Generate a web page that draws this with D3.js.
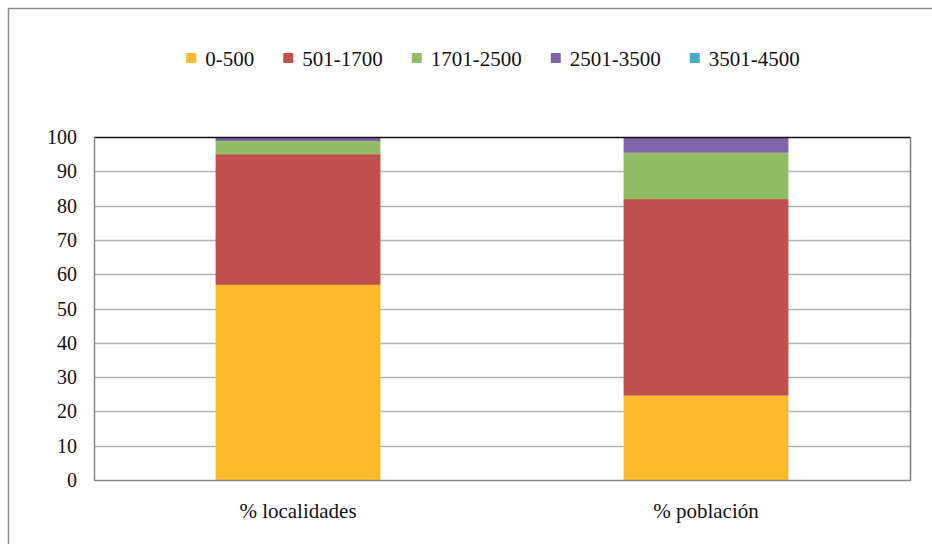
<!DOCTYPE html>
<html>
<head>
<meta charset="UTF-8">
<script src="https://cdnjs.cloudflare.com/ajax/libs/d3/7.8.5/d3.min.js"></script>
</head>
<body style="margin:0">
<script>
// categories on the x axis
var categories = ['% localidades', '% población'];
// series (population ranges) and their colours
var ranges = ['0-500', '501-1700', '1701-2500', '2501-3500', '3501-4500'];
var colors = ['#fdba2a', '#c0504d', '#93bc67', '#7e65a7', '#45acc6'];
// values per range, one per category
var v0_500 = [56.9, 24.6];
var v501_1700 = [38.1, 57.3];
var v1701_2500 = [3.8, 13.5];
var v2501_3500 = [1.2, 4.6];
var v3501_4500 = [0, 0];
var yTicks = [0, 10, 20, 30, 40, 50, 60, 70, 80, 90, 100];

var series = [v0_500, v501_1700, v1701_2500, v2501_3500, v3501_4500];
var rows = categories.map(function(c, i) {
  var r = { cat: c };
  ranges.forEach(function(k, j) { r[k] = series[j][i]; });
  return r;
});

var width = 932, height = 544;
var plot = { left: 94, right: 910, top: 137, bottom: 480 };

var svg = d3.select('body').append('svg')
  .attr('width', width)
  .attr('height', height)
  .attr('font-family', 'Liberation Serif')
  .style('display', 'block');

// outer chart frame
svg.append('rect')
  .attr('x', 8.5).attr('y', 8.5)
  .attr('width', 960).attr('height', 600)
  .attr('fill', '#fff')
  .attr('stroke', '#8e8e8e')
  .attr('stroke-width', 1.5);

var x = d3.scaleBand()
  .domain(categories)
  .range([plot.left, plot.right])
  .paddingInner(0.596)
  .paddingOuter(0.298);

var y = d3.scaleLinear()
  .domain([0, 100])
  .range([plot.bottom, plot.top]);

// gridlines
svg.append('g')
  .selectAll('line')
  .data(yTicks.filter(function(t) { return t > 0 && t < 100; }))
  .enter().append('line')
  .attr('x1', plot.left).attr('x2', plot.right)
  .attr('y1', function(d) { return Math.round(y(d)) + 0.5; })
  .attr('y2', function(d) { return Math.round(y(d)) + 0.5; })
  .attr('stroke', '#b4b4b4')
  .attr('stroke-width', 1.5);

// stacked bars
var stack = d3.stack().keys(ranges)(rows);
svg.append('g')
  .selectAll('g')
  .data(stack)
  .enter().append('g')
  .attr('fill', function(d, i) { return colors[i]; })
  .selectAll('rect')
  .data(function(d) { return d; })
  .enter().append('rect')
  .attr('x', function(d) { return x(d.data.cat); })
  .attr('width', x.bandwidth())
  .attr('y', function(d) { return y(d[1]); })
  .attr('height', function(d) { return y(d[0]) - y(d[1]); });

// plot area border
svg.append('line')
  .attr('x1', plot.left).attr('x2', plot.right)
  .attr('y1', plot.top + 0.5).attr('y2', plot.top + 0.5)
  .attr('stroke', '#111').attr('stroke-width', 1.5);
svg.append('line')
  .attr('x1', plot.right + 0.5).attr('x2', plot.right + 0.5)
  .attr('y1', plot.top).attr('y2', plot.bottom + 1)
  .attr('stroke', '#7a7a7a').attr('stroke-width', 1.5);

// y axis
var yAxis = svg.append('g');
yAxis.append('line')
  .attr('x1', plot.left + 0.5).attr('x2', plot.left + 0.5)
  .attr('y1', plot.top).attr('y2', plot.bottom + 1)
  .attr('stroke', '#868686').attr('stroke-width', 1.5);
yAxis.selectAll('text')
  .data(yTicks)
  .enter().append('text')
  .attr('x', plot.left - 17)
  .attr('y', function(d) { return y(d); })
  .attr('dy', '0.35em')
  .attr('text-anchor', 'end')
  .attr('font-size', 20)
  .attr('fill', '#111')
  .text(function(d) { return d; });

// x axis
var xAxis = svg.append('g');
xAxis.append('line')
  .attr('x1', plot.left).attr('x2', plot.right + 1)
  .attr('y1', plot.bottom + 0.5).attr('y2', plot.bottom + 0.5)
  .attr('stroke', '#868686').attr('stroke-width', 1.5);
xAxis.selectAll('text')
  .data(categories)
  .enter().append('text')
  .attr('x', function(d) { return x(d) + x.bandwidth() / 2; })
  .attr('y', plot.bottom + 38)
  .attr('text-anchor', 'middle')
  .attr('font-size', 21)
  .attr('fill', '#111')
  .text(function(d) { return d; });

// legend
var legend = svg.append('g').attr('transform', 'translate(0,59)');
var items = legend.selectAll('g')
  .data(ranges)
  .enter().append('g');
items.append('rect')
  .attr('width', 10).attr('height', 10)
  .attr('y', -6)
  .attr('fill', function(d, i) { return colors[i]; });
items.append('text')
  .attr('x', 19)
  .attr('dy', '0.35em')
  .attr('font-size', 21)
  .attr('fill', '#111')
  .text(function(d) { return d; });

function placeLegend() {
  var pos = 0, offsets = [];
  items.each(function() {
    offsets.push(pos);
    pos += 19 + this.querySelector('text').getComputedTextLength() + 29;
  });
  var startX = 493 - (pos - 29) / 2;
  items.attr('transform', function(d, i) { return 'translate(' + (startX + offsets[i]) + ',0)'; });
}
placeLegend();
</script>
</body>
</html>
